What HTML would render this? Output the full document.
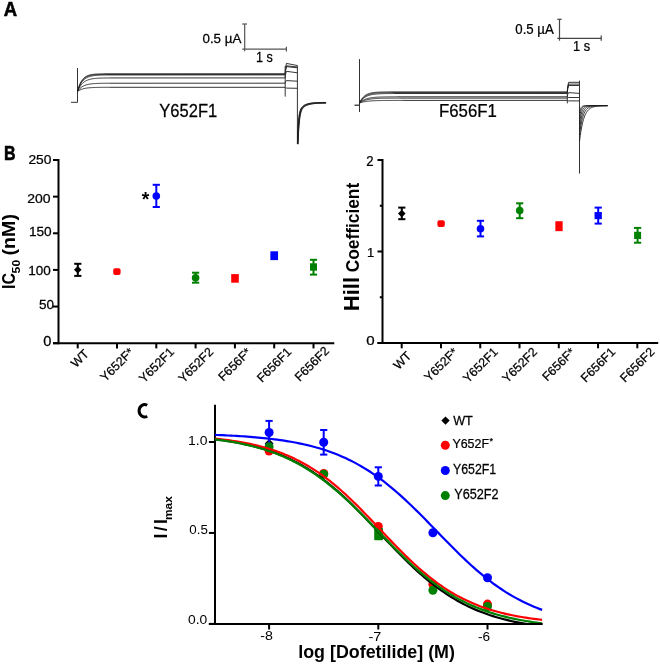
<!DOCTYPE html>
<html><head><meta charset="utf-8"><style>
html,body{margin:0;padding:0;background:#fff;}
svg{will-change:transform;display:block;font-family:"Liberation Sans",sans-serif;font-kerning:none;}
text:not([font-weight="bold"]){stroke:#000;stroke-width:0.25px;}
text.thin{stroke:none;}
</style></head><body>
<svg width="660" height="664" viewBox="0 0 660 664">
<rect width="660" height="664" fill="#fff"/>
<text transform="translate(3.84,15.5) scale(0.9083,1)" font-size="20.35" font-weight="bold" fill="#000" stroke="#000" stroke-width="0.6">A</text>
<line x1="71" y1="102.3" x2="77.5" y2="102.3" stroke="#333" stroke-width="1" />
<line x1="77.5" y1="68" x2="77.5" y2="102.4" stroke="#333" stroke-width="1" />
<path d="M77.5,91.5 L78,89.64 L78.5,87.97 L79,86.48 L79.5,85.15 L80,83.96 L80.5,82.89 L81,81.93 L81.5,81.08 L82,80.31 L82.5,79.63 L83,79.01 L83.5,78.47 L84,77.98 L84.5,77.54 L85,77.14 L85.5,76.79 L86,76.48 L86.5,76.2 L87,75.94 L87.5,75.72 L88,75.52 L88.5,75.34 L89,75.17 L89.5,75.03 L90,74.9 L90.5,74.78 L91,74.68 L91.5,74.59 L92,74.51 L92.5,74.43 L93,74.37 L93.5,74.31 L94,74.25 L94.5,74.2 L95,74.16 L95.5,74.12 L96,74.09 L96.5,74.06 L97,74.03 L97.5,74.01 L98,73.99 L98.5,73.97 L99,73.95 L99.5,73.93 L100,73.92 L100.5,73.91 L101,73.9 L101.5,73.89 L102,73.88 L102.5,73.87 L103,73.86 L103.5,73.85 L104,73.85 L285.2,73.8 L285.5,68.6 L286.4,63.4 L297.4,65.5" fill="none" stroke="#1e1e1e" stroke-width="0.9" stroke-linejoin="round"/>
<path d="M77.5,91.5 L78,89.8 L78.5,88.27 L79,86.88 L79.5,85.64 L80,84.52 L80.5,83.51 L81,82.6 L81.5,81.78 L82,81.04 L82.5,80.37 L83,79.77 L83.5,79.23 L84,78.74 L84.5,78.3 L85,77.91 L85.5,77.55 L86,77.23 L86.5,76.94 L87,76.68 L87.5,76.44 L88,76.23 L88.5,76.04 L89,75.87 L89.5,75.71 L90,75.57 L90.5,75.45 L91,75.33 L91.5,75.23 L92,75.14 L92.5,75.06 L93,74.98 L93.5,74.91 L94,74.85 L94.5,74.8 L95,74.75 L95.5,74.7 L96,74.66 L96.5,74.63 L97,74.6 L97.5,74.57 L98,74.54 L98.5,74.52 L99,74.5 L99.5,74.48 L100,74.46 L100.5,74.44 L101,74.43 L101.5,74.42 L102,74.4 L102.5,74.39 L103,74.38 L103.5,74.38 L104,74.37 L104.5,74.36 L105,74.36 L105.5,74.35 L106,74.35 L285.2,74.3 L285.5,70.05 L286.4,65.8 L297.4,67" fill="none" stroke="#1e1e1e" stroke-width="0.9" stroke-linejoin="round"/>
<path d="M77.5,91.5 L78,89.98 L78.5,88.6 L79,87.34 L79.5,86.2 L80,85.16 L80.5,84.22 L81,83.37 L81.5,82.59 L82,81.89 L82.5,81.25 L83,80.66 L83.5,80.14 L84,79.66 L84.5,79.22 L85,78.82 L85.5,78.46 L86,78.14 L86.5,77.84 L87,77.57 L87.5,77.33 L88,77.1 L88.5,76.9 L89,76.72 L89.5,76.55 L90,76.4 L90.5,76.26 L91,76.14 L91.5,76.02 L92,75.92 L92.5,75.83 L93,75.74 L93.5,75.67 L94,75.6 L94.5,75.53 L95,75.47 L95.5,75.42 L96,75.37 L96.5,75.33 L97,75.29 L97.5,75.25 L98,75.22 L98.5,75.19 L99,75.17 L99.5,75.14 L100,75.12 L100.5,75.1 L101,75.08 L101.5,75.06 L102,75.05 L102.5,75.04 L103,75.02 L103.5,75.01 L104,75 L104.5,74.99 L105,74.98 L105.5,74.98 L106,74.97 L106.5,74.96 L107,74.96 L107.5,74.95 L108,74.95 L108.5,74.94 L285.2,74.9 L285.5,70.75 L286.4,66.6 L297.4,67.8" fill="none" stroke="#1e1e1e" stroke-width="0.9" stroke-linejoin="round"/>
<path d="M77.5,91.5 L78,90.32 L78.5,89.24 L79,88.25 L79.5,87.35 L80,86.53 L80.5,85.78 L81,85.1 L81.5,84.47 L82,83.9 L82.5,83.38 L83,82.9 L83.5,82.47 L84,82.07 L84.5,81.71 L85,81.38 L85.5,81.08 L86,80.8 L86.5,80.55 L87,80.32 L87.5,80.11 L88,79.92 L88.5,79.74 L89,79.58 L89.5,79.43 L90,79.3 L90.5,79.18 L91,79.07 L91.5,78.97 L92,78.87 L92.5,78.79 L93,78.71 L93.5,78.64 L94,78.58 L94.5,78.52 L95,78.46 L95.5,78.42 L96,78.37 L96.5,78.33 L97,78.29 L97.5,78.26 L98,78.23 L98.5,78.2 L99,78.17 L99.5,78.15 L100,78.13 L100.5,78.11 L101,78.09 L101.5,78.07 L102,78.06 L102.5,78.04 L103,78.03 L103.5,78.02 L104,78.01 L104.5,78 L105,77.99 L105.5,77.98 L106,77.98 L106.5,77.97 L107,77.96 L107.5,77.96 L108,77.95 L108.5,77.95 L109,77.94 L109.5,77.94 L110,77.94 L285.2,77.9 L285.5,74.6 L286.4,71.3 L297.4,72.8" fill="none" stroke="#1e1e1e" stroke-width="0.9" stroke-linejoin="round"/>
<path d="M77.5,91.5 L78,90.78 L78.5,90.12 L79,89.52 L79.5,88.97 L80,88.47 L80.5,88.01 L81,87.59 L81.5,87.21 L82,86.86 L82.5,86.54 L83,86.25 L83.5,85.99 L84,85.75 L84.5,85.52 L85,85.32 L85.5,85.14 L86,84.97 L86.5,84.82 L87,84.68 L87.5,84.55 L88,84.43 L88.5,84.32 L89,84.23 L89.5,84.14 L90,84.06 L90.5,83.98 L91,83.91 L91.5,83.85 L92,83.79 L92.5,83.74 L93,83.7 L93.5,83.65 L94,83.61 L94.5,83.58 L95,83.54 L95.5,83.51 L96,83.49 L96.5,83.46 L97,83.44 L97.5,83.42 L98,83.4 L98.5,83.38 L99,83.37 L99.5,83.35 L100,83.34 L100.5,83.33 L101,83.32 L101.5,83.31 L102,83.3 L102.5,83.29 L103,83.28 L103.5,83.27 L104,83.27 L104.5,83.26 L105,83.26 L105.5,83.25 L106,83.25 L106.5,83.24 L107,83.24 L107.5,83.24 L108,83.23 L108.5,83.23 L109,83.23 L109.5,83.22 L110,83.22 L285.2,83.2 L285.5,81.9 L286.4,80.6 L297.4,81.2" fill="none" stroke="#1e1e1e" stroke-width="0.9" stroke-linejoin="round"/>
<path d="M77.5,91.5 L78,91.14 L78.5,90.8 L79,90.5 L79.5,90.22 L80,89.97 L80.5,89.73 L81,89.52 L81.5,89.33 L82,89.15 L82.5,88.99 L83,88.85 L83.5,88.71 L84,88.59 L84.5,88.48 L85,88.37 L85.5,88.28 L86,88.2 L86.5,88.12 L87,88.05 L87.5,87.98 L88,87.92 L88.5,87.87 L89,87.82 L89.5,87.77 L90,87.73 L90.5,87.7 L91,87.66 L91.5,87.63 L92,87.6 L92.5,87.57 L93,87.55 L93.5,87.53 L94,87.51 L94.5,87.49 L95,87.47 L95.5,87.46 L96,87.45 L96.5,87.43 L97,87.42 L97.5,87.41 L98,87.4 L98.5,87.39 L99,87.38 L99.5,87.38 L100,87.37 L100.5,87.36 L101,87.36 L101.5,87.35 L102,87.35 L102.5,87.34 L103,87.34 L103.5,87.34 L104,87.33 L104.5,87.33 L105,87.33 L105.5,87.33 L106,87.32 L106.5,87.32 L107,87.32 L107.5,87.32 L108,87.32 L108.5,87.31 L109,87.31 L109.5,87.31 L110,87.31 L285.2,87.3 L285.5,87.7 L286.4,88.1 L297.4,88.3" fill="none" stroke="#1e1e1e" stroke-width="0.9" stroke-linejoin="round"/>
<line x1="285.2" y1="66" x2="285.2" y2="96.6" stroke="#333" stroke-width="1" />
<line x1="297.4" y1="65.5" x2="297.4" y2="143.7" stroke="#333" stroke-width="1" />
<path d="M297.4,143.7 L297.7,135.19 L298,128.75 L298.3,123.86 L298.6,120.13 L298.9,117.26 L299.2,115.03 L299.5,113.28 L299.8,111.9 L300.1,110.8 L300.4,109.9 L300.7,109.15 L301,108.54 L301.3,108.01 L301.6,107.56 L301.9,107.17 L302.2,106.82 L302.5,106.52 L302.8,106.24 L303.1,105.99 L303.4,105.76 L303.7,105.55 L304,105.35 L304.3,105.17 L304.6,105.01 L304.9,104.85 L305.2,104.7 L305.5,104.57 L305.8,104.44 L306.1,104.32 L306.4,104.21 L306.7,104.1 L307,104 L307.3,103.91 L307.6,103.82 L307.9,103.74 L308.2,103.66 L308.5,103.58 L308.8,103.52 L309.1,103.45 L309.4,103.39 L309.7,103.33 L310,103.28 L310.3,103.23 L310.6,103.18 L310.9,103.13 L311.2,103.09 L311.5,103.05 L311.8,103.01 L312.1,102.98 L312.4,102.94 L312.7,102.91 L313,102.88 L313.3,102.85 L313.6,102.83 L313.9,102.8 L314.2,102.78 L314.5,102.76 L314.8,102.74 L315.1,102.72 L315.4,102.7 L315.7,102.68 L316,102.66 L316.3,102.65 L316.6,102.63 L316.9,102.62 L317.2,102.61 L317.5,102.6 L317.8,102.58 L318.1,102.57 L318.4,102.56 L318.7,102.55 L319,102.54 L319.3,102.54 L319.6,102.53 L319.9,102.52 L320.2,102.51 L320.5,102.51 L320.8,102.5 L321.1,102.5 L321.4,102.49 L321.7,102.48 L322,102.48 L322.3,102.47 L322.6,102.47 L322.9,102.47 L323.2,102.46 L323.5,102.46 L323.8,102.46 L324.1,102.45 L324.4,102.45 L324.7,102.45 L325,102.44 L325.3,102.44 L325.6,102.44" fill="none" stroke="#1e1e1e" stroke-width="0.9" />
<path d="M297.55,143.85 L297.85,135.74 L298.15,129.52 L298.45,124.72 L298.75,121 L299.05,118.09 L299.35,115.81 L299.65,114.01 L299.95,112.57 L300.25,111.4 L300.55,110.45 L300.85,109.67 L301.15,109.01 L301.45,108.45 L301.75,107.97 L302.05,107.56 L302.35,107.19 L302.65,106.87 L302.95,106.58 L303.25,106.32 L303.55,106.08 L303.85,105.86 L304.15,105.66 L304.45,105.47 L304.75,105.3 L305.05,105.14 L305.35,104.99 L305.65,104.85 L305.95,104.71 L306.25,104.59 L306.55,104.47 L306.85,104.36 L307.15,104.26 L307.45,104.16 L307.75,104.07 L308.05,103.99 L308.35,103.91 L308.65,103.83 L308.95,103.76 L309.25,103.69 L309.55,103.63 L309.85,103.56 L310.15,103.51 L310.45,103.45 L310.75,103.4 L311.05,103.35 L311.35,103.31 L311.65,103.27 L311.95,103.23 L312.25,103.19 L312.55,103.15 L312.85,103.12 L313.15,103.09 L313.45,103.06 L313.75,103.03 L314.05,103 L314.35,102.98 L314.65,102.95 L314.95,102.93 L315.25,102.91 L315.55,102.89 L315.85,102.87 L316.15,102.85 L316.45,102.83 L316.75,102.82 L317.05,102.8 L317.35,102.79 L317.65,102.78 L317.95,102.76 L318.25,102.75 L318.55,102.74 L318.85,102.73 L319.15,102.72 L319.45,102.71 L319.75,102.7 L320.05,102.69 L320.35,102.68 L320.65,102.68 L320.95,102.67 L321.25,102.66 L321.55,102.66 L321.85,102.65 L322.15,102.64 L322.45,102.64 L322.75,102.63 L323.05,102.63 L323.35,102.62 L323.65,102.62 L323.95,102.62 L324.25,102.61 L324.55,102.61 L324.85,102.61 L325.15,102.6 L325.45,102.6 L325.75,102.6" fill="none" stroke="#1e1e1e" stroke-width="0.9" />
<path d="M297.7,144 L298,136.26 L298.3,130.24 L298.6,125.53 L298.9,121.83 L299.2,118.91 L299.5,116.58 L299.8,114.73 L300.1,113.23 L300.4,112.01 L300.7,111.02 L301,110.19 L301.3,109.49 L301.6,108.9 L301.9,108.39 L302.2,107.95 L302.5,107.57 L302.8,107.23 L303.1,106.92 L303.4,106.65 L303.7,106.4 L304,106.17 L304.3,105.97 L304.6,105.77 L304.9,105.59 L305.2,105.43 L305.5,105.27 L305.8,105.13 L306.1,104.99 L306.4,104.86 L306.7,104.74 L307,104.63 L307.3,104.52 L307.6,104.42 L307.9,104.33 L308.2,104.24 L308.5,104.16 L308.8,104.08 L309.1,104 L309.4,103.93 L309.7,103.86 L310,103.8 L310.3,103.74 L310.6,103.68 L310.9,103.63 L311.2,103.58 L311.5,103.53 L311.8,103.49 L312.1,103.44 L312.4,103.4 L312.7,103.36 L313,103.33 L313.3,103.29 L313.6,103.26 L313.9,103.23 L314.2,103.2 L314.5,103.17 L314.8,103.15 L315.1,103.12 L315.4,103.1 L315.7,103.08 L316,103.06 L316.3,103.04 L316.6,103.02 L316.9,103 L317.2,102.99 L317.5,102.97 L317.8,102.96 L318.1,102.94 L318.4,102.93 L318.7,102.92 L319,102.9 L319.3,102.89 L319.6,102.88 L319.9,102.87 L320.2,102.86 L320.5,102.85 L320.8,102.85 L321.1,102.84 L321.4,102.83 L321.7,102.82 L322,102.82 L322.3,102.81 L322.6,102.8 L322.9,102.8 L323.2,102.79 L323.5,102.79 L323.8,102.78 L324.1,102.78 L324.4,102.77 L324.7,102.77 L325,102.77 L325.3,102.76 L325.6,102.76 L325.9,102.76" fill="none" stroke="#1e1e1e" stroke-width="0.9" />
<path d="M297.85,144.15 L298.15,136.75 L298.45,130.91 L298.75,126.29 L299.05,122.62 L299.35,119.69 L299.65,117.34 L299.95,115.44 L300.25,113.89 L300.55,112.63 L300.85,111.58 L301.15,110.71 L301.45,109.98 L301.75,109.36 L302.05,108.82 L302.35,108.36 L302.65,107.95 L302.95,107.59 L303.25,107.28 L303.55,106.99 L303.85,106.73 L304.15,106.49 L304.45,106.27 L304.75,106.07 L305.05,105.89 L305.35,105.72 L305.65,105.56 L305.95,105.41 L306.25,105.27 L306.55,105.14 L306.85,105.01 L307.15,104.9 L307.45,104.79 L307.75,104.68 L308.05,104.58 L308.35,104.49 L308.65,104.4 L308.95,104.32 L309.25,104.24 L309.55,104.17 L309.85,104.1 L310.15,104.03 L310.45,103.97 L310.75,103.91 L311.05,103.86 L311.35,103.8 L311.65,103.75 L311.95,103.71 L312.25,103.66 L312.55,103.62 L312.85,103.58 L313.15,103.54 L313.45,103.5 L313.75,103.47 L314.05,103.44 L314.35,103.4 L314.65,103.38 L314.95,103.35 L315.25,103.32 L315.55,103.3 L315.85,103.27 L316.15,103.25 L316.45,103.23 L316.75,103.21 L317.05,103.19 L317.35,103.17 L317.65,103.16 L317.95,103.14 L318.25,103.12 L318.55,103.11 L318.85,103.1 L319.15,103.08 L319.45,103.07 L319.75,103.06 L320.05,103.05 L320.35,103.04 L320.65,103.03 L320.95,103.02 L321.25,103.01 L321.55,103 L321.85,102.99 L322.15,102.99 L322.45,102.98 L322.75,102.97 L323.05,102.97 L323.35,102.96 L323.65,102.95 L323.95,102.95 L324.25,102.94 L324.55,102.94 L324.85,102.93 L325.15,102.93 L325.45,102.92 L325.75,102.92 L326.05,102.92" fill="none" stroke="#1e1e1e" stroke-width="0.9" />
<path d="M298,144.3 L298.3,137.21 L298.6,131.55 L298.9,127.02 L299.2,123.39 L299.5,120.45 L299.8,118.08 L300.1,116.14 L300.4,114.55 L300.7,113.24 L301,112.16 L301.3,111.25 L301.6,110.48 L301.9,109.82 L302.2,109.26 L302.5,108.77 L302.8,108.34 L303.1,107.97 L303.4,107.63 L303.7,107.33 L304,107.06 L304.3,106.81 L304.6,106.59 L304.9,106.38 L305.2,106.19 L305.5,106.01 L305.8,105.84 L306.1,105.69 L306.4,105.54 L306.7,105.41 L307,105.28 L307.3,105.16 L307.6,105.05 L307.9,104.94 L308.2,104.84 L308.5,104.75 L308.8,104.65 L309.1,104.57 L309.4,104.49 L309.7,104.41 L310,104.34 L310.3,104.27 L310.6,104.21 L310.9,104.14 L311.2,104.09 L311.5,104.03 L311.8,103.98 L312.1,103.93 L312.4,103.88 L312.7,103.83 L313,103.79 L313.3,103.75 L313.6,103.71 L313.9,103.68 L314.2,103.64 L314.5,103.61 L314.8,103.58 L315.1,103.55 L315.4,103.52 L315.7,103.49 L316,103.47 L316.3,103.44 L316.6,103.42 L316.9,103.4 L317.2,103.38 L317.5,103.36 L317.8,103.34 L318.1,103.32 L318.4,103.31 L318.7,103.29 L319,103.28 L319.3,103.26 L319.6,103.25 L319.9,103.24 L320.2,103.22 L320.5,103.21 L320.8,103.2 L321.1,103.19 L321.4,103.18 L321.7,103.17 L322,103.16 L322.3,103.16 L322.6,103.15 L322.9,103.14 L323.2,103.13 L323.5,103.13 L323.8,103.12 L324.1,103.11 L324.4,103.11 L324.7,103.1 L325,103.1 L325.3,103.09 L325.6,103.09 L325.9,103.08 L326.2,103.08" fill="none" stroke="#1e1e1e" stroke-width="0.9" />
<line x1="244.7" y1="24" x2="244.7" y2="51.2" stroke="#555" stroke-width="1.2" />
<line x1="242.2" y1="24" x2="247" y2="24" stroke="#555" stroke-width="1.2" />
<line x1="242.2" y1="49.2" x2="286.4" y2="49.2" stroke="#555" stroke-width="1.2" />
<line x1="286.4" y1="46.7" x2="286.4" y2="51.6" stroke="#555" stroke-width="1.2" />
<text transform="translate(202.48,43.2) scale(0.9808,1)" font-size="13.61" font-weight="normal" fill="#000" >0.5 µA</text>
<text transform="translate(256.04,61.76) scale(0.9068,1)" font-size="13.9" font-weight="normal" fill="#000" >1 s</text>
<text transform="translate(159.34,117.12) scale(0.9084,1)" font-size="18.22" font-weight="normal" fill="#000" >Y652F1</text>
<line x1="354.5" y1="105.2" x2="359.5" y2="105.2" stroke="#333" stroke-width="1.3" />
<line x1="359.5" y1="59.1" x2="359.5" y2="112" stroke="#333" stroke-width="1" />
<path d="M359.5,103 L360,101.94 L360.5,100.99 L361,100.12 L361.5,99.34 L362,98.63 L362.5,97.99 L363,97.41 L363.5,96.89 L364,96.41 L364.5,95.98 L365,95.59 L365.5,95.24 L366,94.93 L366.5,94.64 L367,94.38 L367.5,94.14 L368,93.93 L368.5,93.73 L369,93.56 L369.5,93.4 L370,93.26 L370.5,93.13 L371,93.01 L371.5,92.91 L372,92.81 L372.5,92.72 L373,92.65 L373.5,92.57 L374,92.51 L374.5,92.45 L375,92.4 L375.5,92.35 L376,92.31 L376.5,92.27 L377,92.24 L377.5,92.2 L378,92.17 L378.5,92.15 L379,92.12 L379.5,92.1 L380,92.08 L380.5,92.07 L381,92.05 L381.5,92.04 L382,92.02 L382.5,92.01 L383,92 L383.5,91.99 L384,91.98 L384.5,91.97 L385,91.97 L385.5,91.96 L386,91.96 L386.5,91.95 L387,91.95 L387.5,91.94 L388,91.94 L388.5,91.93 L389,91.93 L567.3,91.9 L567.6,87.1 L568.6,82.3 L579.5,82.3" fill="none" stroke="#1e1e1e" stroke-width="0.9" stroke-linejoin="round"/>
<path d="M359.5,103 L360,102.08 L360.5,101.24 L361,100.48 L361.5,99.78 L362,99.15 L362.5,98.57 L363,98.04 L363.5,97.56 L364,97.12 L364.5,96.72 L365,96.36 L365.5,96.02 L366,95.72 L366.5,95.44 L367,95.19 L367.5,94.96 L368,94.75 L368.5,94.56 L369,94.39 L369.5,94.23 L370,94.09 L370.5,93.96 L371,93.84 L371.5,93.73 L372,93.63 L372.5,93.54 L373,93.45 L373.5,93.38 L374,93.31 L374.5,93.25 L375,93.19 L375.5,93.14 L376,93.09 L376.5,93.05 L377,93.01 L377.5,92.97 L378,92.94 L378.5,92.91 L379,92.88 L379.5,92.86 L380,92.83 L380.5,92.81 L381,92.79 L381.5,92.78 L382,92.76 L382.5,92.75 L383,92.73 L383.5,92.72 L384,92.71 L384.5,92.7 L385,92.69 L385.5,92.68 L386,92.68 L386.5,92.67 L387,92.66 L387.5,92.66 L388,92.65 L388.5,92.65 L389,92.64 L389.5,92.64 L390,92.64 L390.5,92.63 L391,92.63 L391.5,92.63 L567.3,92.6 L567.6,88.35 L568.6,84.1 L579.5,84.1" fill="none" stroke="#1e1e1e" stroke-width="0.9" stroke-linejoin="round"/>
<path d="M359.5,103 L360,102.22 L360.5,101.5 L361,100.84 L361.5,100.23 L362,99.67 L362.5,99.16 L363,98.7 L363.5,98.27 L364,97.87 L364.5,97.51 L365,97.18 L365.5,96.88 L366,96.6 L366.5,96.34 L367,96.11 L367.5,95.89 L368,95.69 L368.5,95.51 L369,95.35 L369.5,95.19 L370,95.05 L370.5,94.93 L371,94.81 L371.5,94.7 L372,94.6 L372.5,94.51 L373,94.43 L373.5,94.35 L374,94.28 L374.5,94.22 L375,94.16 L375.5,94.1 L376,94.05 L376.5,94.01 L377,93.96 L377.5,93.93 L378,93.89 L378.5,93.86 L379,93.83 L379.5,93.8 L380,93.78 L380.5,93.75 L381,93.73 L381.5,93.71 L382,93.7 L382.5,93.68 L383,93.67 L383.5,93.65 L384,93.64 L384.5,93.63 L385,93.62 L385.5,93.61 L386,93.6 L386.5,93.59 L387,93.58 L387.5,93.58 L388,93.57 L388.5,93.56 L389,93.56 L389.5,93.55 L390,93.55 L390.5,93.55 L391,93.54 L391.5,93.54 L392,93.54 L392.5,93.53 L393,93.53 L393.5,93.53 L394,93.52 L567.3,93.5 L567.6,89.5 L568.6,85.5 L579.5,85.5" fill="none" stroke="#1e1e1e" stroke-width="0.9" stroke-linejoin="round"/>
<path d="M359.5,103 L360,102.53 L360.5,102.09 L361,101.69 L361.5,101.31 L362,100.97 L362.5,100.65 L363,100.36 L363.5,100.09 L364,99.84 L364.5,99.6 L365,99.39 L365.5,99.19 L366,99.01 L366.5,98.84 L367,98.69 L367.5,98.54 L368,98.41 L368.5,98.29 L369,98.17 L369.5,98.07 L370,97.97 L370.5,97.88 L371,97.8 L371.5,97.72 L372,97.65 L372.5,97.59 L373,97.53 L373.5,97.47 L374,97.42 L374.5,97.37 L375,97.33 L375.5,97.29 L376,97.25 L376.5,97.22 L377,97.19 L377.5,97.16 L378,97.13 L378.5,97.1 L379,97.08 L379.5,97.06 L380,97.04 L380.5,97.02 L381,97 L381.5,96.99 L382,96.97 L382.5,96.96 L383,96.95 L383.5,96.94 L384,96.93 L384.5,96.92 L385,96.91 L385.5,96.9 L386,96.89 L386.5,96.89 L387,96.88 L387.5,96.87 L388,96.87 L388.5,96.86 L389,96.86 L389.5,96.85 L390,96.85 L390.5,96.85 L391,96.84 L391.5,96.84 L392,96.84 L392.5,96.83 L393,96.83 L393.5,96.83 L394,96.83 L394.5,96.82 L395,96.82 L395.5,96.82 L396,96.82 L396.5,96.82 L397,96.82 L567.3,96.8 L567.6,94.7 L568.6,92.6 L579.5,93.4" fill="none" stroke="#1e1e1e" stroke-width="0.9" stroke-linejoin="round"/>
<path d="M359.5,103 L360,102.65 L360.5,102.33 L361,102.03 L361.5,101.75 L362,101.49 L362.5,101.25 L363,101.03 L363.5,100.82 L364,100.63 L364.5,100.45 L365,100.28 L365.5,100.13 L366,99.98 L366.5,99.85 L367,99.73 L367.5,99.61 L368,99.5 L368.5,99.4 L369,99.31 L369.5,99.23 L370,99.15 L370.5,99.07 L371,99 L371.5,98.94 L372,98.88 L372.5,98.82 L373,98.77 L373.5,98.73 L374,98.68 L374.5,98.64 L375,98.6 L375.5,98.57 L376,98.53 L376.5,98.5 L377,98.47 L377.5,98.45 L378,98.42 L378.5,98.4 L379,98.38 L379.5,98.36 L380,98.34 L380.5,98.32 L381,98.31 L381.5,98.29 L382,98.28 L382.5,98.27 L383,98.25 L383.5,98.24 L384,98.23 L384.5,98.22 L385,98.22 L385.5,98.21 L386,98.2 L386.5,98.19 L387,98.19 L387.5,98.18 L388,98.17 L388.5,98.17 L389,98.16 L389.5,98.16 L390,98.16 L390.5,98.15 L391,98.15 L391.5,98.14 L392,98.14 L392.5,98.14 L393,98.14 L393.5,98.13 L394,98.13 L394.5,98.13 L395,98.13 L395.5,98.12 L396,98.12 L396.5,98.12 L397,98.12 L397.5,98.12 L398,98.12 L398.5,98.12 L399,98.11 L399.5,98.11 L400,98.11 L567.3,98.1 L567.6,97.8 L568.6,97.5 L579.5,97.5" fill="none" stroke="#1e1e1e" stroke-width="0.9" stroke-linejoin="round"/>
<path d="M359.5,103 L360,102.83 L360.5,102.67 L361,102.52 L361.5,102.38 L362,102.25 L362.5,102.12 L363,102.01 L363.5,101.9 L364,101.8 L364.5,101.71 L365,101.62 L365.5,101.54 L366,101.47 L366.5,101.4 L367,101.33 L367.5,101.27 L368,101.21 L368.5,101.16 L369,101.11 L369.5,101.06 L370,101.02 L370.5,100.98 L371,100.94 L371.5,100.9 L372,100.87 L372.5,100.84 L373,100.81 L373.5,100.78 L374,100.76 L374.5,100.73 L375,100.71 L375.5,100.69 L376,100.67 L376.5,100.65 L377,100.64 L377.5,100.62 L378,100.61 L378.5,100.59 L379,100.58 L379.5,100.57 L380,100.56 L380.5,100.55 L381,100.54 L381.5,100.53 L382,100.52 L382.5,100.51 L383,100.5 L383.5,100.5 L384,100.49 L384.5,100.48 L385,100.48 L385.5,100.47 L386,100.47 L386.5,100.46 L387,100.46 L387.5,100.46 L388,100.45 L388.5,100.45 L389,100.45 L389.5,100.44 L390,100.44 L390.5,100.44 L391,100.43 L391.5,100.43 L392,100.43 L392.5,100.43 L393,100.43 L393.5,100.42 L394,100.42 L394.5,100.42 L395,100.42 L395.5,100.42 L396,100.42 L396.5,100.42 L397,100.42 L397.5,100.41 L398,100.41 L398.5,100.41 L399,100.41 L399.5,100.41 L400,100.41 L400.5,100.41 L401,100.41 L401.5,100.41 L402,100.41 L402.5,100.41 L403,100.41 L567.3,100.4 L567.6,100.65 L568.6,100.9 L579.5,100.9" fill="none" stroke="#1e1e1e" stroke-width="0.9" stroke-linejoin="round"/>
<line x1="567.3" y1="93" x2="567.3" y2="103.4" stroke="#333" stroke-width="1" />
<line x1="579.5" y1="80.7" x2="579.5" y2="173.5" stroke="#333" stroke-width="1" />
<path d="M579.5,141.6 L579.9,138.33 L580.3,135.36 L580.7,132.65 L581.1,130.2 L581.5,127.96 L581.9,125.93 L582.3,124.08 L582.7,122.4 L583.1,120.88 L583.5,119.49 L583.9,118.23 L584.3,117.08 L584.7,116.04 L585.1,115.09 L585.5,114.23 L585.9,113.44 L586.3,112.73 L586.7,112.08 L587.1,111.49 L587.5,110.96 L587.9,110.47 L588.3,110.03 L588.7,109.63 L589.1,109.26 L589.5,108.93 L589.9,108.63 L590.3,108.35 L590.7,108.1 L591.1,107.87 L591.5,107.67 L591.9,107.48 L592.3,107.31 L592.7,107.15 L593.1,107.01 L593.5,106.88 L593.9,106.77 L594.3,106.66 L594.7,106.57 L595.1,106.48 L595.5,106.4 L595.9,106.33 L596.3,106.26 L596.7,106.2 L597.1,106.15 L597.5,106.1 L597.9,106.05 L598.3,106.01 L598.7,105.97 L599.1,105.94 L599.5,105.91 L599.9,105.88 L600.3,105.85 L600.7,105.83 L601.1,105.81 L601.5,105.79 L601.9,105.77 L602.3,105.76 L602.7,105.74 L603.1,105.73 L603.5,105.72 L603.9,105.71 L604.3,105.7 L604.7,105.69 L605.1,105.68 L605.5,105.67 L605.9,105.67 L606.3,105.66 L606.7,105.66 L607.1,105.65 L607.5,105.65" fill="none" stroke="#1e1e1e" stroke-width="0.9" />
<path d="M579.5,135.6 L579.9,132.27 L580.3,129.31 L580.7,126.68 L581.1,124.34 L581.5,122.26 L581.9,120.41 L582.3,118.77 L582.7,117.31 L583.1,116.01 L583.5,114.85 L583.9,113.82 L584.3,112.91 L584.7,112.1 L585.1,111.38 L585.5,110.74 L585.9,110.17 L586.3,109.66 L586.7,109.21 L587.1,108.81 L587.5,108.45 L587.9,108.14 L588.3,107.85 L588.7,107.6 L589.1,107.38 L589.5,107.18 L589.9,107.01 L590.3,106.85 L590.7,106.71 L591.1,106.59 L591.5,106.48 L591.9,106.38 L592.3,106.3 L592.7,106.22 L593.1,106.15 L593.5,106.09 L593.9,106.03 L594.3,105.99 L594.7,105.94 L595.1,105.91 L595.5,105.87 L595.9,105.84 L596.3,105.81 L596.7,105.79 L597.1,105.77 L597.5,105.75 L597.9,105.73 L598.3,105.72 L598.7,105.71 L599.1,105.69 L599.5,105.68 L599.9,105.67 L600.3,105.67 L600.7,105.66 L601.1,105.65 L601.5,105.65 L601.9,105.64 L602.3,105.64 L602.7,105.63 L603.1,105.63 L603.5,105.63 L603.9,105.62 L604.3,105.62 L604.7,105.62 L605.1,105.62 L605.5,105.61 L605.9,105.61 L606.3,105.61 L606.7,105.61 L607.1,105.61 L607.5,105.61" fill="none" stroke="#1e1e1e" stroke-width="0.9" />
<path d="M579.5,130.6 L579.9,127.16 L580.3,124.19 L580.7,121.63 L581.1,119.42 L581.5,117.52 L581.9,115.88 L582.3,114.46 L582.7,113.24 L583.1,112.19 L583.5,111.28 L583.9,110.5 L584.3,109.83 L584.7,109.24 L585.1,108.74 L585.5,108.31 L585.9,107.94 L586.3,107.61 L586.7,107.34 L587.1,107.1 L587.5,106.89 L587.9,106.71 L588.3,106.56 L588.7,106.43 L589.1,106.31 L589.5,106.22 L589.9,106.13 L590.3,106.06 L590.7,105.99 L591.1,105.94 L591.5,105.89 L591.9,105.85 L592.3,105.82 L592.7,105.79 L593.1,105.76 L593.5,105.74 L593.9,105.72 L594.3,105.7 L594.7,105.69 L595.1,105.68 L595.5,105.67 L595.9,105.66 L596.3,105.65 L596.7,105.64 L597.1,105.64 L597.5,105.63 L597.9,105.63 L598.3,105.62 L598.7,105.62 L599.1,105.62 L599.5,105.62 L599.9,105.61 L600.3,105.61 L600.7,105.61 L601.1,105.61 L601.5,105.61 L601.9,105.61 L602.3,105.61 L602.7,105.6 L603.1,105.6 L603.5,105.6 L603.9,105.6 L604.3,105.6 L604.7,105.6 L605.1,105.6 L605.5,105.6 L605.9,105.6 L606.3,105.6 L606.7,105.6 L607.1,105.6 L607.5,105.6" fill="none" stroke="#1e1e1e" stroke-width="0.9" />
<path d="M579.5,124.6 L579.9,121.3 L580.3,118.58 L580.7,116.33 L581.1,114.47 L581.5,112.93 L581.9,111.66 L582.3,110.61 L582.7,109.74 L583.1,109.02 L583.5,108.43 L583.9,107.94 L584.3,107.53 L584.7,107.2 L585.1,106.92 L585.5,106.69 L585.9,106.5 L586.3,106.35 L586.7,106.22 L587.1,106.11 L587.5,106.02 L587.9,105.95 L588.3,105.89 L588.7,105.84 L589.1,105.8 L589.5,105.76 L589.9,105.73 L590.3,105.71 L590.7,105.69 L591.1,105.68 L591.5,105.66 L591.9,105.65 L592.3,105.64 L592.7,105.64 L593.1,105.63 L593.5,105.62 L593.9,105.62 L594.3,105.62 L594.7,105.61 L595.1,105.61 L595.5,105.61 L595.9,105.61 L596.3,105.61 L596.7,105.61 L597.1,105.6 L597.5,105.6 L597.9,105.6 L598.3,105.6 L598.7,105.6 L599.1,105.6 L599.5,105.6 L599.9,105.6 L600.3,105.6 L600.7,105.6 L601.1,105.6 L601.5,105.6 L601.9,105.6 L602.3,105.6 L602.7,105.6 L603.1,105.6 L603.5,105.6 L603.9,105.6 L604.3,105.6 L604.7,105.6 L605.1,105.6 L605.5,105.6 L605.9,105.6 L606.3,105.6 L606.7,105.6 L607.1,105.6 L607.5,105.6" fill="none" stroke="#1e1e1e" stroke-width="0.9" />
<path d="M579.5,118.6 L579.9,115.72 L580.3,113.48 L580.7,111.74 L581.1,110.38 L581.5,109.32 L581.9,108.5 L582.3,107.86 L582.7,107.36 L583.1,106.97 L583.5,106.67 L583.9,106.43 L584.3,106.25 L584.7,106.1 L585.1,105.99 L585.5,105.91 L585.9,105.84 L586.3,105.79 L586.7,105.74 L587.1,105.71 L587.5,105.69 L587.9,105.67 L588.3,105.65 L588.7,105.64 L589.1,105.63 L589.5,105.63 L589.9,105.62 L590.3,105.62 L590.7,105.61 L591.1,105.61 L591.5,105.61 L591.9,105.61 L592.3,105.6 L592.7,105.6 L593.1,105.6 L593.5,105.6 L593.9,105.6 L594.3,105.6 L594.7,105.6 L595.1,105.6 L595.5,105.6 L595.9,105.6 L596.3,105.6 L596.7,105.6 L597.1,105.6 L597.5,105.6 L597.9,105.6 L598.3,105.6 L598.7,105.6 L599.1,105.6 L599.5,105.6 L599.9,105.6 L600.3,105.6 L600.7,105.6 L601.1,105.6 L601.5,105.6 L601.9,105.6 L602.3,105.6 L602.7,105.6 L603.1,105.6 L603.5,105.6 L603.9,105.6 L604.3,105.6 L604.7,105.6 L605.1,105.6 L605.5,105.6 L605.9,105.6 L606.3,105.6 L606.7,105.6 L607.1,105.6 L607.5,105.6" fill="none" stroke="#1e1e1e" stroke-width="0.9" />
<path d="M579.5,113.6 L579.9,111.33 L580.3,109.71 L580.7,108.54 L581.1,107.71 L581.5,107.11 L581.9,106.68 L582.3,106.38 L582.7,106.16 L583.1,106 L583.5,105.89 L583.9,105.8 L584.3,105.75 L584.7,105.7 L585.1,105.68 L585.5,105.65 L585.9,105.64 L586.3,105.63 L586.7,105.62 L587.1,105.61 L587.5,105.61 L587.9,105.61 L588.3,105.61 L588.7,105.6 L589.1,105.6 L589.5,105.6 L589.9,105.6 L590.3,105.6 L590.7,105.6 L591.1,105.6 L591.5,105.6 L591.9,105.6 L592.3,105.6 L592.7,105.6 L593.1,105.6 L593.5,105.6 L593.9,105.6 L594.3,105.6 L594.7,105.6 L595.1,105.6 L595.5,105.6 L595.9,105.6 L596.3,105.6 L596.7,105.6 L597.1,105.6 L597.5,105.6 L597.9,105.6 L598.3,105.6 L598.7,105.6 L599.1,105.6 L599.5,105.6 L599.9,105.6 L600.3,105.6 L600.7,105.6 L601.1,105.6 L601.5,105.6 L601.9,105.6 L602.3,105.6 L602.7,105.6 L603.1,105.6 L603.5,105.6 L603.9,105.6 L604.3,105.6 L604.7,105.6 L605.1,105.6 L605.5,105.6 L605.9,105.6 L606.3,105.6 L606.7,105.6 L607.1,105.6 L607.5,105.6" fill="none" stroke="#1e1e1e" stroke-width="0.9" />
<line x1="559.5" y1="19.3" x2="559.5" y2="40.7" stroke="#444" stroke-width="1.2" />
<line x1="557.3" y1="19.3" x2="561.7" y2="19.3" stroke="#444" stroke-width="1.2" />
<line x1="557.3" y1="38.4" x2="601.2" y2="38.4" stroke="#444" stroke-width="1.2" />
<line x1="601.2" y1="35.5" x2="601.2" y2="40.8" stroke="#444" stroke-width="1.2" />
<text transform="translate(515.28,34.1) scale(0.9531,1)" font-size="13.89" font-weight="normal" fill="#000" >0.5 µA</text>
<text transform="translate(573.12,50.96) scale(0.9244,1)" font-size="13.9" font-weight="normal" fill="#000" >1 s</text>
<text transform="translate(438.92,117.22) scale(0.9383,1)" font-size="17.94" font-weight="normal" fill="#000" >F656F1</text>
<text transform="translate(4.03,159.7) scale(0.8129,1)" font-size="19.77" font-weight="bold" fill="#000" stroke="#000" stroke-width="0.6">B</text>
<line x1="58.5" y1="159" x2="58.5" y2="344.2" stroke="#000" stroke-width="2" />
<line x1="53" y1="343.2" x2="334.3" y2="343.2" stroke="#000" stroke-width="2" />
<line x1="53" y1="343.2" x2="58.5" y2="343.2" stroke="#000" stroke-width="2" />
<line x1="53" y1="306.56" x2="58.5" y2="306.56" stroke="#000" stroke-width="2" />
<line x1="53" y1="269.92" x2="58.5" y2="269.92" stroke="#000" stroke-width="2" />
<line x1="53" y1="233.28" x2="58.5" y2="233.28" stroke="#000" stroke-width="2" />
<line x1="53" y1="196.64" x2="58.5" y2="196.64" stroke="#000" stroke-width="2" />
<line x1="53" y1="160" x2="58.5" y2="160" stroke="#000" stroke-width="2" />
<line x1="77.7" y1="343.2" x2="77.7" y2="348.4" stroke="#000" stroke-width="2" />
<line x1="117" y1="343.2" x2="117" y2="348.4" stroke="#000" stroke-width="2" />
<line x1="156.3" y1="343.2" x2="156.3" y2="348.4" stroke="#000" stroke-width="2" />
<line x1="195.6" y1="343.2" x2="195.6" y2="348.4" stroke="#000" stroke-width="2" />
<line x1="234.9" y1="343.2" x2="234.9" y2="348.4" stroke="#000" stroke-width="2" />
<line x1="274.2" y1="343.2" x2="274.2" y2="348.4" stroke="#000" stroke-width="2" />
<line x1="313.5" y1="343.2" x2="313.5" y2="348.4" stroke="#000" stroke-width="2" />
<text transform="translate(28.41,164.37) scale(1.0510,1)" font-size="13.14" font-weight="normal" fill="#000" >250</text>
<text transform="translate(27.2,202.77) scale(1.0655,1)" font-size="13.14" font-weight="normal" fill="#000" >200</text>
<text transform="translate(28.96,236.08) scale(1.0737,1)" font-size="12.71" font-weight="normal" fill="#000" >150</text>
<text transform="translate(28.27,274.68) scale(1.0636,1)" font-size="12.71" font-weight="normal" fill="#000" >100</text>
<text transform="translate(38.96,308.67) scale(0.9890,1)" font-size="13.7" font-weight="normal" fill="#000" >50</text>
<text transform="translate(43.33,345.66) scale(1.0579,1)" font-size="13.84" font-weight="normal" fill="#000" >0</text>
<text transform="translate(75.98,368.26) rotate(-45)" font-size="12.4" fill="#000">WT</text>
<text transform="translate(105.37,382.23) rotate(-45)" font-size="12.4" fill="#000">Y652F*</text>
<text transform="translate(144.08,383.4) rotate(-45)" font-size="12.4" fill="#000">Y652F1</text>
<text transform="translate(183.39,383.39) rotate(-45)" font-size="12.4" fill="#000">Y652F2</text>
<text transform="translate(223.25,381.74) rotate(-45)" font-size="12.4" fill="#000">F656F*</text>
<text transform="translate(261.96,382.91) rotate(-45)" font-size="12.4" fill="#000">F656F1</text>
<text transform="translate(299.77,381.9) rotate(-45)" font-size="12.4" fill="#000">F656F2</text>
<line x1="77.8" y1="263.8" x2="77.8" y2="275.9" stroke="#000" stroke-width="2" />
<line x1="74.2" y1="263.8" x2="81.4" y2="263.8" stroke="#000" stroke-width="2" />
<line x1="74.2" y1="275.9" x2="81.4" y2="275.9" stroke="#000" stroke-width="2" />
<path d="M77.8,265.9 L81.6,269.7 L77.8,273.5 L74,269.7Z" fill="#000"/>
<rect x="113.2" y="268.2" width="7.4" height="6.8" rx="2" fill="#ff0000"/>
<line x1="156.3" y1="184.8" x2="156.3" y2="207" stroke="#0000ff" stroke-width="2" />
<line x1="152.7" y1="184.8" x2="159.9" y2="184.8" stroke="#0000ff" stroke-width="2" />
<line x1="152.7" y1="207" x2="159.9" y2="207" stroke="#0000ff" stroke-width="2" />
<circle cx="156.3" cy="196.1" r="3.8" fill="#0000ff"/>
<text transform="translate(141.74,205.87) scale(0.9658,1)" font-size="20.16" font-weight="bold" fill="#000" >*</text>
<line x1="195.6" y1="272.7" x2="195.6" y2="282.7" stroke="#008000" stroke-width="2" />
<line x1="192" y1="272.7" x2="199.2" y2="272.7" stroke="#008000" stroke-width="2" />
<line x1="192" y1="282.7" x2="199.2" y2="282.7" stroke="#008000" stroke-width="2" />
<circle cx="195.6" cy="277.7" r="3.8" fill="#008000"/>
<rect x="231.2" y="274.1" width="7.6" height="8.6" fill="#ff0000"/>
<rect x="270.35" y="251.3" width="7.7" height="8.8" fill="#0000ff"/>
<line x1="313.5" y1="259.8" x2="313.5" y2="274.6" stroke="#008000" stroke-width="2" />
<line x1="309.9" y1="259.8" x2="317.1" y2="259.8" stroke="#008000" stroke-width="2" />
<line x1="309.9" y1="274.6" x2="317.1" y2="274.6" stroke="#008000" stroke-width="2" />
<rect x="310" y="263.3" width="7" height="7.4" fill="#008000"/>
<text transform="translate(14.9,288.97) rotate(-90) scale(0.9044,1)" font-size="17.7" font-weight="bold" fill="#000">IC</text>
<text transform="translate(19.9,273.38) rotate(-90) scale(1.0522,1)" font-size="11.6" font-weight="bold" fill="#000">50</text>
<text transform="translate(14.9,255.48) rotate(-90) scale(1.0977,1)" font-size="17.9" font-weight="bold" fill="#000">(nM)</text>
<text transform="translate(359.2,311.17) rotate(-90) scale(0.9736,1)" font-size="22.6" font-weight="bold" fill="#000">Hill</text>
<text transform="translate(359.2,272.21) rotate(-90) scale(0.9468,1)" font-size="18.3" font-weight="bold" fill="#000">Coefficient</text>
<line x1="382.5" y1="159" x2="382.5" y2="344" stroke="#000" stroke-width="2" />
<line x1="377.5" y1="343" x2="658.2" y2="343" stroke="#000" stroke-width="2" />
<line x1="377.5" y1="343" x2="382.5" y2="343" stroke="#000" stroke-width="2" />
<line x1="377.5" y1="251.5" x2="382.5" y2="251.5" stroke="#000" stroke-width="2" />
<line x1="377.5" y1="160" x2="382.5" y2="160" stroke="#000" stroke-width="2" />
<line x1="379.8" y1="297.25" x2="382.5" y2="297.25" stroke="#000" stroke-width="2" />
<line x1="379.8" y1="205.75" x2="382.5" y2="205.75" stroke="#000" stroke-width="2" />
<line x1="401.7" y1="343" x2="401.7" y2="348.3" stroke="#000" stroke-width="2" />
<line x1="440.97" y1="343" x2="440.97" y2="348.3" stroke="#000" stroke-width="2" />
<line x1="480.24" y1="343" x2="480.24" y2="348.3" stroke="#000" stroke-width="2" />
<line x1="519.51" y1="343" x2="519.51" y2="348.3" stroke="#000" stroke-width="2" />
<line x1="558.78" y1="343" x2="558.78" y2="348.3" stroke="#000" stroke-width="2" />
<line x1="598.05" y1="343" x2="598.05" y2="348.3" stroke="#000" stroke-width="2" />
<line x1="637.32" y1="343" x2="637.32" y2="348.3" stroke="#000" stroke-width="2" />
<text transform="translate(366.34,165.9) scale(0.9289,1)" font-size="14.18" font-weight="normal" fill="#000" >2</text>
<text transform="translate(367.01,256.7) scale(0.9820,1)" font-size="13.23" font-weight="normal" fill="#000" >1</text>
<text transform="translate(366.21,344.87) scale(1.1719,1)" font-size="12.85" font-weight="normal" fill="#000" >0</text>
<text transform="translate(398.48,370.36) rotate(-45)" font-size="12.4" fill="#000">WT</text>
<text transform="translate(429.34,382.23) rotate(-45)" font-size="12.4" fill="#000">Y652F*</text>
<text transform="translate(468.02,383.4) rotate(-45)" font-size="12.4" fill="#000">Y652F1</text>
<text transform="translate(507.3,383.39) rotate(-45)" font-size="12.4" fill="#000">Y652F2</text>
<text transform="translate(547.13,381.74) rotate(-45)" font-size="12.4" fill="#000">F656F*</text>
<text transform="translate(585.81,382.91) rotate(-45)" font-size="12.4" fill="#000">F656F1</text>
<text transform="translate(625.09,382.9) rotate(-45)" font-size="12.4" fill="#000">F656F2</text>
<line x1="401.8" y1="207.6" x2="401.8" y2="219.2" stroke="#000" stroke-width="2" />
<line x1="398.2" y1="207.6" x2="405.4" y2="207.6" stroke="#000" stroke-width="2" />
<line x1="398.2" y1="219.2" x2="405.4" y2="219.2" stroke="#000" stroke-width="2" />
<path d="M401.8,209.8 L405.6,213.6 L401.8,217.4 L398,213.6Z" fill="#000"/>
<rect x="437.4" y="220.2" width="7.4" height="6.8" rx="2" fill="#ff0000"/>
<line x1="480.5" y1="220.8" x2="480.5" y2="236.4" stroke="#0000ff" stroke-width="2" />
<line x1="476.9" y1="220.8" x2="484.1" y2="220.8" stroke="#0000ff" stroke-width="2" />
<line x1="476.9" y1="236.4" x2="484.1" y2="236.4" stroke="#0000ff" stroke-width="2" />
<circle cx="480.5" cy="228.8" r="3.8" fill="#0000ff"/>
<line x1="519.7" y1="203.3" x2="519.7" y2="218.2" stroke="#008000" stroke-width="2" />
<line x1="516.1" y1="203.3" x2="523.3" y2="203.3" stroke="#008000" stroke-width="2" />
<line x1="516.1" y1="218.2" x2="523.3" y2="218.2" stroke="#008000" stroke-width="2" />
<circle cx="519.7" cy="210.6" r="3.8" fill="#008000"/>
<rect x="555.35" y="221.25" width="7.3" height="9.9" fill="#ff0000"/>
<line x1="598.2" y1="207.6" x2="598.2" y2="223.6" stroke="#0000ff" stroke-width="2" />
<line x1="594.6" y1="207.6" x2="601.8" y2="207.6" stroke="#0000ff" stroke-width="2" />
<line x1="594.6" y1="223.6" x2="601.8" y2="223.6" stroke="#0000ff" stroke-width="2" />
<rect x="594.55" y="212.05" width="7.3" height="7.1" fill="#0000ff"/>
<line x1="637.6" y1="227.9" x2="637.6" y2="242.7" stroke="#008000" stroke-width="2" />
<line x1="634" y1="227.9" x2="641.2" y2="227.9" stroke="#008000" stroke-width="2" />
<line x1="634" y1="242.7" x2="641.2" y2="242.7" stroke="#008000" stroke-width="2" />
<rect x="634.1" y="231.8" width="7" height="7.2" fill="#008000"/>
<path d="M147.18,405.28 A5.5,6.2 0 1 0 147.18,416.22" fill="none" stroke="#000" stroke-width="3"/>
<line x1="215" y1="404.7" x2="215" y2="624.9" stroke="#000" stroke-width="2" />
<line x1="208.9" y1="623.9" x2="542.7" y2="623.9" stroke="#000" stroke-width="2" />
<line x1="208.9" y1="623.9" x2="215" y2="623.9" stroke="#000" stroke-width="2" />
<line x1="208.9" y1="532.95" x2="215" y2="532.95" stroke="#000" stroke-width="2" />
<line x1="208.9" y1="442" x2="215" y2="442" stroke="#000" stroke-width="2" />
<line x1="269.1" y1="623.9" x2="269.1" y2="629.5" stroke="#000" stroke-width="2" />
<line x1="378.3" y1="623.9" x2="378.3" y2="629.5" stroke="#000" stroke-width="2" />
<line x1="487.5" y1="623.9" x2="487.5" y2="629.5" stroke="#000" stroke-width="2" />
<text transform="translate(188.04,444.87) scale(1.0405,1)" font-size="13.42" font-weight="normal" fill="#000" class="thin">1.0</text>
<text transform="translate(189.28,534.47) scale(1.0401,1)" font-size="12.85" font-weight="normal" fill="#000" class="thin">0.5</text>
<text transform="translate(187.96,623.67) scale(1.0125,1)" font-size="13.7" font-weight="normal" fill="#000" class="thin">0.0</text>
<text transform="translate(260.27,640.37) scale(1.0493,1)" font-size="13.56" font-weight="normal" fill="#000" class="thin">-8</text>
<text transform="translate(368.46,641.2) scale(1.0595,1)" font-size="13.66" font-weight="normal" fill="#000" class="thin">-7</text>
<text transform="translate(478,640.77) scale(1.0590,1)" font-size="12.85" font-weight="normal" fill="#000" class="thin">-6</text>
<text transform="translate(298.25,658.4) scale(0.9516,1)" font-size="18.77" font-weight="bold" fill="#000" >log [Dofetilide] (M)</text>
<path d="M269.1,438.9 L273.6,443.4 L269.1,447.9 L264.6,443.4Z" fill="#000"/>
<line x1="269.1" y1="420.9" x2="269.1" y2="444" stroke="#0000ff" stroke-width="2" />
<line x1="265.5" y1="420.9" x2="272.7" y2="420.9" stroke="#0000ff" stroke-width="2" />
<line x1="265.5" y1="444" x2="272.7" y2="444" stroke="#0000ff" stroke-width="2" />
<circle cx="269.1" cy="432.5" r="4.5" fill="#0000ff"/>
<line x1="323.7" y1="430" x2="323.7" y2="454.6" stroke="#0000ff" stroke-width="2" />
<line x1="320.1" y1="430" x2="327.3" y2="430" stroke="#0000ff" stroke-width="2" />
<line x1="320.1" y1="454.6" x2="327.3" y2="454.6" stroke="#0000ff" stroke-width="2" />
<circle cx="323.7" cy="442.3" r="4.5" fill="#0000ff"/>
<line x1="378.3" y1="467.3" x2="378.3" y2="485.5" stroke="#0000ff" stroke-width="2" />
<line x1="374.7" y1="467.3" x2="381.9" y2="467.3" stroke="#0000ff" stroke-width="2" />
<line x1="374.7" y1="485.5" x2="381.9" y2="485.5" stroke="#0000ff" stroke-width="2" />
<circle cx="378.3" cy="476.4" r="4.5" fill="#0000ff"/>
<circle cx="432.9" cy="532.8" r="4.5" fill="#0000ff"/>
<circle cx="487.5" cy="577.7" r="4.5" fill="#0000ff"/>
<circle cx="269.1" cy="451" r="4.5" fill="#ff0000"/>
<circle cx="323.7" cy="473.5" r="4.5" fill="#ff0000"/>
<circle cx="378.3" cy="526.4" r="4.5" fill="#ff0000"/>
<circle cx="432.9" cy="584.2" r="4.5" fill="#ff0000"/>
<circle cx="487.5" cy="604.1" r="4.5" fill="#ff0000"/>
<circle cx="269.1" cy="446.8" r="4.5" fill="#008000"/>
<circle cx="323.7" cy="474.2" r="4.5" fill="#008000"/>
<circle cx="432.9" cy="590.3" r="4.5" fill="#008000"/>
<circle cx="487.5" cy="606.5" r="4.5" fill="#008000"/>
<rect x="374.2" y="528" width="8.8" height="12.2" rx="1" fill="#008000"/>
<clipPath id="cc"><rect x="215" y="380" width="328" height="243"/></clipPath>
<path d="M214.5,439.23 L217.23,439.56 L219.96,439.91 L222.69,440.27 L225.42,440.66 L228.15,441.07 L230.88,441.5 L233.61,441.96 L236.34,442.44 L239.07,442.95 L241.8,443.49 L244.53,444.05 L247.26,444.64 L249.99,445.27 L252.72,445.93 L255.45,446.62 L258.18,447.35 L260.91,448.12 L263.64,448.93 L266.37,449.78 L269.1,450.67 L271.83,451.6 L274.56,452.59 L277.29,453.61 L280.02,454.69 L282.75,455.82 L285.48,457 L288.21,458.24 L290.94,459.53 L293.67,460.87 L296.4,462.28 L299.13,463.74 L301.86,465.27 L304.59,466.86 L307.32,468.51 L310.05,470.22 L312.78,472 L315.51,473.85 L318.24,475.76 L320.97,477.73 L323.7,479.77 L326.43,481.88 L329.16,484.05 L331.89,486.28 L334.62,488.57 L337.35,490.93 L340.08,493.34 L342.81,495.81 L345.54,498.34 L348.27,500.92 L351,503.54 L353.73,506.22 L356.46,508.93 L359.19,511.68 L361.92,514.47 L364.65,517.29 L367.38,520.13 L370.11,523 L372.84,525.88 L375.57,528.77 L378.3,531.67 L381.03,534.58 L383.76,537.48 L386.49,540.37 L389.22,543.25 L391.95,546.11 L394.68,548.95 L397.41,551.76 L400.14,554.54 L402.87,557.29 L405.6,560 L408.33,562.66 L411.06,565.28 L413.79,567.85 L416.52,570.37 L419.25,572.83 L421.98,575.23 L424.71,577.58 L427.44,579.86 L430.17,582.08 L432.9,584.24 L435.63,586.33 L438.36,588.36 L441.09,590.33 L443.82,592.22 L446.55,594.06 L449.28,595.83 L452.01,597.53 L454.74,599.17 L457.47,600.75 L460.2,602.26 L462.93,603.72 L465.66,605.11 L468.39,606.45 L471.12,607.73 L473.85,608.96 L476.58,610.13 L479.31,611.25 L482.04,612.32 L484.77,613.34 L487.5,614.31 L490.23,615.24 L492.96,616.12 L495.69,616.96 L498.42,617.76 L501.15,618.52 L503.88,619.25 L506.61,619.94 L509.34,620.59 L512.07,621.21 L514.8,621.8 L517.53,622.36 L520.26,622.89 L522.99,623.39 L525.72,623.87 L528.45,624.32 L531.18,624.75 L533.91,625.16 L536.64,625.54 L539.37,625.9 L542.1,626.25" fill="none" stroke="#000" stroke-width="2.2" clip-path="url(#cc)"/>
<path d="M214.5,438.58 L217.23,438.87 L219.96,439.17 L222.69,439.49 L225.42,439.83 L228.15,440.19 L230.88,440.58 L233.61,440.98 L236.34,441.41 L239.07,441.86 L241.8,442.33 L244.53,442.84 L247.26,443.37 L249.99,443.93 L252.72,444.53 L255.45,445.15 L258.18,445.82 L260.91,446.51 L263.64,447.25 L266.37,448.02 L269.1,448.84 L271.83,449.7 L274.56,450.6 L277.29,451.55 L280.02,452.54 L282.75,453.59 L285.48,454.69 L288.21,455.84 L290.94,457.05 L293.67,458.31 L296.4,459.63 L299.13,461.01 L301.86,462.46 L304.59,463.96 L307.32,465.53 L310.05,467.16 L312.78,468.86 L315.51,470.63 L318.24,472.46 L320.97,474.36 L323.7,476.33 L326.43,478.37 L329.16,480.47 L331.89,482.64 L334.62,484.87 L337.35,487.17 L340.08,489.53 L342.81,491.95 L345.54,494.43 L348.27,496.96 L351,499.55 L353.73,502.19 L356.46,504.87 L359.19,507.59 L361.92,510.36 L364.65,513.15 L367.38,515.98 L370.11,518.83 L372.84,521.7 L375.57,524.58 L378.3,527.47 L381.03,530.37 L383.76,533.26 L386.49,536.15 L389.22,539.02 L391.95,541.88 L394.68,544.71 L397.41,547.52 L400.14,550.29 L402.87,553.03 L405.6,555.73 L408.33,558.38 L411.06,560.98 L413.79,563.53 L416.52,566.03 L419.25,568.47 L421.98,570.85 L424.71,573.17 L427.44,575.43 L430.17,577.62 L432.9,579.74 L435.63,581.8 L438.36,583.79 L441.09,585.72 L443.82,587.57 L446.55,589.36 L449.28,591.08 L452.01,592.74 L454.74,594.33 L457.47,595.85 L460.2,597.32 L462.93,598.72 L465.66,600.06 L468.39,601.34 L471.12,602.57 L473.85,603.74 L476.58,604.85 L479.31,605.92 L482.04,606.93 L484.77,607.9 L487.5,608.81 L490.23,609.69 L492.96,610.52 L495.69,611.3 L498.42,612.05 L501.15,612.76 L503.88,613.43 L506.61,614.07 L509.34,614.68 L512.07,615.25 L514.8,615.79 L517.53,616.31 L520.26,616.79 L522.99,617.25 L525.72,617.69 L528.45,618.1 L531.18,618.49 L533.91,618.86 L536.64,619.2 L539.37,619.53 L542.1,619.84" fill="none" stroke="#ff0000" stroke-width="2.2" clip-path="url(#cc)"/>
<path d="M214.5,439.36 L217.23,439.71 L219.96,440.07 L222.69,440.44 L225.42,440.85 L228.15,441.27 L230.88,441.71 L233.61,442.18 L236.34,442.68 L239.07,443.2 L241.8,443.75 L244.53,444.33 L247.26,444.94 L249.99,445.58 L252.72,446.26 L255.45,446.97 L258.18,447.71 L260.91,448.5 L263.64,449.32 L266.37,450.19 L269.1,451.09 L271.83,452.04 L274.56,453.04 L277.29,454.08 L280.02,455.17 L282.75,456.31 L285.48,457.51 L288.21,458.76 L290.94,460.06 L293.67,461.41 L296.4,462.83 L299.13,464.3 L301.86,465.84 L304.59,467.43 L307.32,469.08 L310.05,470.8 L312.78,472.58 L315.51,474.42 L318.24,476.32 L320.97,478.29 L323.7,480.32 L326.43,482.41 L329.16,484.57 L331.89,486.78 L334.62,489.05 L337.35,491.38 L340.08,493.77 L342.81,496.21 L345.54,498.7 L348.27,501.24 L351,503.82 L353.73,506.45 L356.46,509.11 L359.19,511.81 L361.92,514.54 L364.65,517.3 L367.38,520.09 L370.11,522.89 L372.84,525.7 L375.57,528.52 L378.3,531.35 L381.03,534.18 L383.76,537.01 L386.49,539.82 L389.22,542.62 L391.95,545.4 L394.68,548.16 L397.41,550.89 L400.14,553.59 L402.87,556.26 L405.6,558.88 L408.33,561.47 L411.06,564.01 L413.79,566.49 L416.52,568.93 L419.25,571.32 L421.98,573.65 L424.71,575.92 L427.44,578.13 L430.17,580.28 L432.9,582.38 L435.63,584.4 L438.36,586.37 L441.09,588.27 L443.82,590.11 L446.55,591.89 L449.28,593.61 L452.01,595.26 L454.74,596.85 L457.47,598.39 L460.2,599.86 L462.93,601.27 L465.66,602.63 L468.39,603.93 L471.12,605.18 L473.85,606.37 L476.58,607.51 L479.31,608.6 L482.04,609.64 L484.77,610.64 L487.5,611.59 L490.23,612.49 L492.96,613.36 L495.69,614.18 L498.42,614.96 L501.15,615.71 L503.88,616.42 L506.61,617.09 L509.34,617.73 L512.07,618.34 L514.8,618.92 L517.53,619.47 L520.26,619.99 L522.99,620.49 L525.72,620.96 L528.45,621.4 L531.18,621.83 L533.91,622.23 L536.64,622.61 L539.37,622.97 L542.1,623.31" fill="none" stroke="#008000" stroke-width="2.2" clip-path="url(#cc)"/>
<path d="M214.5,434.89 L217.23,435 L219.96,435.11 L222.69,435.22 L225.42,435.35 L228.15,435.48 L230.88,435.62 L233.61,435.77 L236.34,435.92 L239.07,436.09 L241.8,436.26 L244.53,436.45 L247.26,436.64 L249.99,436.85 L252.72,437.06 L255.45,437.29 L258.18,437.54 L260.91,437.79 L263.64,438.07 L266.37,438.35 L269.1,438.65 L271.83,438.97 L274.56,439.31 L277.29,439.67 L280.02,440.04 L282.75,440.44 L285.48,440.86 L288.21,441.3 L290.94,441.76 L293.67,442.25 L296.4,442.77 L299.13,443.31 L301.86,443.88 L304.59,444.49 L307.32,445.12 L310.05,445.79 L312.78,446.49 L315.51,447.22 L318.24,448 L320.97,448.81 L323.7,449.66 L326.43,450.56 L329.16,451.5 L331.89,452.48 L334.62,453.51 L337.35,454.59 L340.08,455.71 L342.81,456.89 L345.54,458.12 L348.27,459.41 L351,460.75 L353.73,462.14 L356.46,463.6 L359.19,465.11 L361.92,466.68 L364.65,468.32 L367.38,470.01 L370.11,471.77 L372.84,473.59 L375.57,475.47 L378.3,477.41 L381.03,479.42 L383.76,481.49 L386.49,483.62 L389.22,485.81 L391.95,488.06 L394.68,490.36 L397.41,492.72 L400.14,495.14 L402.87,497.61 L405.6,500.12 L408.33,502.69 L411.06,505.29 L413.79,507.94 L416.52,510.62 L419.25,513.33 L421.98,516.07 L424.71,518.84 L427.44,521.63 L430.17,524.43 L432.9,527.24 L435.63,530.06 L438.36,532.88 L441.09,535.7 L443.82,538.51 L446.55,541.3 L449.28,544.08 L452.01,546.84 L454.74,549.58 L457.47,552.28 L460.2,554.95 L462.93,557.58 L465.66,560.17 L468.39,562.72 L471.12,565.22 L473.85,567.67 L476.58,570.07 L479.31,572.42 L482.04,574.7 L484.77,576.93 L487.5,579.1 L490.23,581.21 L492.96,583.26 L495.69,585.25 L498.42,587.17 L501.15,589.03 L503.88,590.83 L506.61,592.57 L509.34,594.24 L512.07,595.85 L514.8,597.41 L517.53,598.9 L520.26,600.34 L522.99,601.71 L525.72,603.04 L528.45,604.3 L531.18,605.52 L533.91,606.68 L536.64,607.79 L539.37,608.85 L542.1,609.86" fill="none" stroke="#0000ff" stroke-width="2.2" clip-path="url(#cc)"/>
<path d="M445.5,416.4 L449.7,420.6 L445.5,424.8 L441.3,420.6Z" fill="#000"/>
<circle cx="445.3" cy="445.2" r="4.5" fill="#ff0000"/>
<circle cx="445.3" cy="470.5" r="4.5" fill="#0000ff"/>
<circle cx="445.3" cy="495.6" r="4.5" fill="#008000"/>
<text transform="translate(453.14,424.6) scale(0.9660,1)" font-size="13.08" font-weight="normal" fill="#000" >WT</text>
<text transform="translate(452.43,448.07) scale(0.9684,1)" font-size="12.85" font-weight="normal" fill="#000" >Y652F</text>
<text x="489.5" y="443.5" font-size="9" fill="#000">*</text>
<text transform="translate(452.93,473.96) scale(0.8748,1)" font-size="14.12" font-weight="normal" fill="#000" >Y652F1</text>
<text transform="translate(454.22,499.16) scale(0.9162,1)" font-size="13.84" font-weight="normal" fill="#000" >Y652F2</text>
<text transform="translate(166.9,538.38) rotate(-90)" letter-spacing="2.24" font-size="17.6" font-weight="bold" fill="#000">I/I</text>
<text transform="translate(172.3,519.98) rotate(-90) scale(1.0699,1)" font-size="11.1" font-weight="bold" fill="#000">max</text>
</svg></body></html>
